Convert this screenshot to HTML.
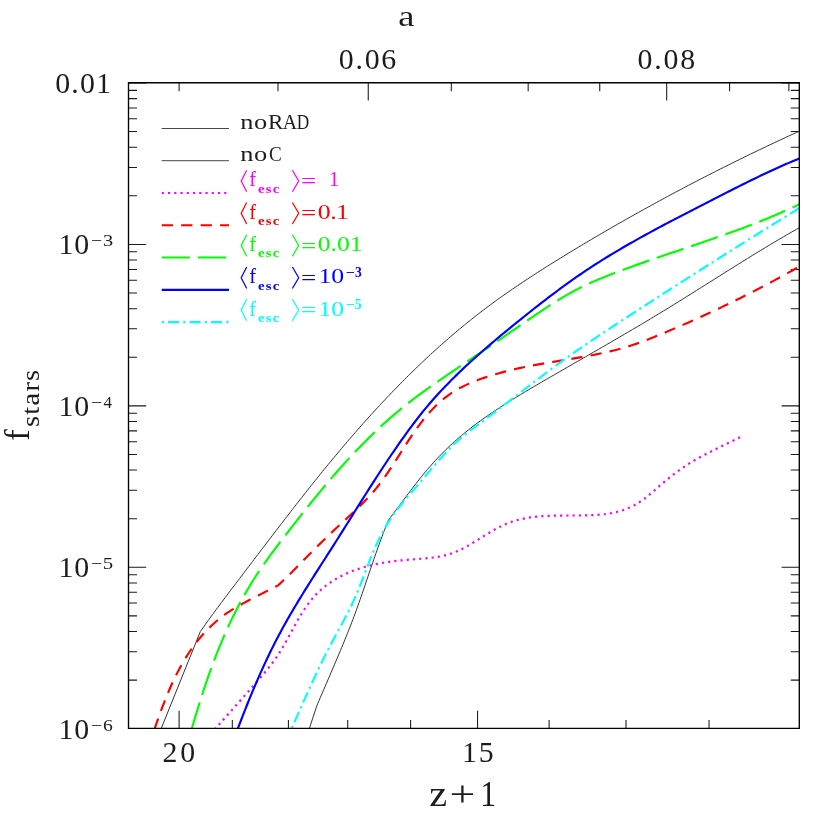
<!DOCTYPE html>
<html><head><meta charset="utf-8"><title>f_stars vs z+1</title>
<style>
html,body{margin:0;padding:0;background:#fff;}
body{width:830px;height:830px;overflow:hidden;font-family:"Liberation Serif",serif;}
svg{display:block;will-change:transform;font-family:"Liberation Serif",serif;}
</style></head><body>
<svg width="830" height="830" viewBox="0 0 830 830">
<rect width="830" height="830" fill="#fff"/>
<path d="M128.5,728.40 h17.7 M799.3,728.40 h-17.7 M128.5,680.11 h8.5 M799.3,680.11 h-8.5 M128.5,651.68 h8.5 M799.3,651.68 h-8.5 M128.5,631.51 h8.5 M799.3,631.51 h-8.5 M128.5,615.87 h8.5 M799.3,615.87 h-8.5 M128.5,603.09 h8.5 M799.3,603.09 h-8.5 M128.5,592.28 h8.5 M799.3,592.28 h-8.5 M128.5,582.92 h8.5 M799.3,582.92 h-8.5 M128.5,574.66 h8.5 M799.3,574.66 h-8.5 M128.5,567.27 h17.7 M799.3,567.27 h-17.7 M128.5,518.68 h8.5 M799.3,518.68 h-8.5 M128.5,490.26 h8.5 M799.3,490.26 h-8.5 M128.5,470.09 h8.5 M799.3,470.09 h-8.5 M128.5,454.44 h8.5 M799.3,454.44 h-8.5 M128.5,441.66 h8.5 M799.3,441.66 h-8.5 M128.5,430.86 h8.5 M799.3,430.86 h-8.5 M128.5,421.49 h8.5 M799.3,421.49 h-8.5 M128.5,413.24 h8.5 M799.3,413.24 h-8.5 M128.5,405.85 h17.7 M799.3,405.85 h-17.7 M128.5,357.26 h8.5 M799.3,357.26 h-8.5 M128.5,328.83 h8.5 M799.3,328.83 h-8.5 M128.5,308.66 h8.5 M799.3,308.66 h-8.5 M128.5,293.02 h8.5 M799.3,293.02 h-8.5 M128.5,280.24 h8.5 M799.3,280.24 h-8.5 M128.5,269.43 h8.5 M799.3,269.43 h-8.5 M128.5,260.07 h8.5 M799.3,260.07 h-8.5 M128.5,251.81 h8.5 M799.3,251.81 h-8.5 M128.5,244.43 h17.7 M799.3,244.43 h-17.7 M128.5,195.83 h8.5 M799.3,195.83 h-8.5 M128.5,167.41 h8.5 M799.3,167.41 h-8.5 M128.5,147.24 h8.5 M799.3,147.24 h-8.5 M128.5,131.59 h8.5 M799.3,131.59 h-8.5 M128.5,118.81 h8.5 M799.3,118.81 h-8.5 M128.5,108.01 h8.5 M799.3,108.01 h-8.5 M128.5,98.64 h8.5 M799.3,98.64 h-8.5 M128.5,90.39 h8.5 M799.3,90.39 h-8.5 M128.5,83.00 h17.7 M799.3,83.00 h-17.7 M709.04,728.4 v-8.5 M626.00,728.4 v-8.5 M549.12,728.4 v-8.5 M477.55,728.4 v-17.7 M410.60,728.4 v-8.5 M347.71,728.4 v-8.5 M288.41,728.4 v-8.5 M232.32,728.4 v-8.5 M179.11,728.4 v-17.7 M179.11,82.7 v8.5 M277.99,82.7 v8.5 M368.25,82.7 v17.7 M451.29,82.7 v8.5 M528.16,82.7 v8.5 M599.74,82.7 v8.5 M666.69,82.7 v17.7 M729.58,82.7 v8.5 M788.87,82.7 v8.5" fill="none" stroke="#1a1a1a" stroke-width="1.05"/>
<clipPath id="cp"><rect x="128.5" y="82.7" width="670.8" height="645.6999999999999"/></clipPath>
<g fill="none" clip-path="url(#cp)">
<path d="M161.25,728.40 L200.30,631.60 L202.03,629.14 L203.77,626.69 L205.51,624.24 L207.27,621.80 L209.03,619.37 L210.79,616.93 L212.57,614.51 L214.35,612.08 L216.13,609.67 L217.92,607.25 L219.71,604.84 L221.51,602.43 L223.32,600.02 L225.12,597.62 L226.93,595.22 L228.74,592.82 L230.56,590.43 L232.37,588.03 L234.19,585.64 L236.01,583.24 L237.83,580.85 L239.65,578.46 L241.47,576.07 L243.29,573.68 L245.11,571.29 L246.93,568.89 L248.75,566.50 L250.57,564.11 L252.39,561.71 L254.21,559.32 L256.02,556.93 L257.84,554.54 L259.66,552.14 L261.48,549.75 L263.30,547.36 L265.12,544.97 L266.95,542.58 L268.77,540.19 L270.59,537.80 L272.42,535.41 L274.24,533.02 L276.07,530.63 L277.90,528.25 L279.73,525.86 L281.56,523.48 L283.39,521.10 L285.23,518.72 L287.06,516.34 L288.90,513.96 L290.74,511.58 L292.59,509.21 L294.43,506.84 L296.28,504.47 L298.13,502.10 L299.98,499.73 L301.84,497.37 L303.70,495.01 L305.56,492.65 L307.42,490.29 L309.29,487.93 L311.16,485.58 L313.04,483.23 L314.92,480.89 L316.80,478.54 L318.68,476.20 L320.57,473.86 L322.47,471.53 L324.36,469.20 L326.26,466.87 L328.17,464.54 L330.08,462.22 L331.99,459.91 L333.91,457.59 L335.84,455.28 L337.76,452.98 L339.70,450.67 L341.63,448.38 L343.57,446.08 L345.52,443.79 L347.47,441.51 L349.43,439.22 L351.39,436.95 L353.36,434.68 L355.33,432.41 L357.31,430.14 L359.30,427.89 L361.28,425.63 L363.28,423.38 L365.28,421.14 L367.29,418.90 L369.30,416.67 L371.31,414.44 L373.34,412.22 L375.37,410.00 L377.40,407.79 L379.44,405.58 L381.49,403.38 L383.55,401.19 L385.61,399.00 L387.67,396.82 L389.75,394.64 L391.83,392.47 L393.91,390.31 L396.01,388.15 L398.11,386.00 L400.21,383.86 L402.32,381.72 L404.44,379.59 L406.57,377.46 L408.71,375.35 L410.85,373.24 L412.99,371.13 L415.15,369.04 L417.31,366.95 L419.48,364.87 L421.66,362.80 L423.84,360.73 L426.03,358.68 L428.23,356.63 L430.44,354.59 L432.65,352.55 L434.87,350.53 L437.10,348.51 L439.34,346.50 L441.58,344.50 L443.84,342.51 L446.10,340.53 L448.37,338.56 L450.64,336.60 L452.92,334.64 L455.22,332.70 L457.52,330.76 L459.82,328.84 L462.14,326.92 L464.46,325.01 L466.79,323.12 L469.13,321.23 L471.48,319.35 L473.84,317.48 L476.20,315.63 L478.57,313.78 L480.95,311.94 L483.34,310.12 L485.73,308.30 L488.14,306.50 L490.55,304.70 L492.97,302.92 L495.39,301.15 L497.83,299.38 L500.27,297.63 L502.72,295.89 L505.18,294.16 L507.65,292.44 L510.12,290.73 L512.59,289.03 L515.08,287.34 L517.57,285.65 L520.06,283.97 L522.56,282.31 L525.07,280.64 L527.58,278.99 L530.09,277.34 L532.61,275.70 L535.13,274.07 L537.66,272.44 L540.19,270.81 L542.72,269.20 L545.26,267.59 L547.80,265.98 L550.34,264.38 L552.89,262.79 L555.44,261.20 L558.00,259.61 L560.55,258.03 L563.11,256.46 L565.68,254.89 L568.24,253.32 L570.81,251.76 L573.38,250.20 L575.95,248.65 L578.53,247.10 L581.11,245.55 L583.69,244.01 L586.27,242.47 L588.85,240.94 L591.44,239.41 L594.03,237.88 L596.62,236.36 L599.22,234.84 L601.81,233.32 L604.41,231.81 L607.01,230.30 L609.61,228.80 L612.21,227.30 L614.82,225.80 L617.43,224.30 L620.04,222.81 L622.65,221.33 L625.26,219.84 L627.88,218.36 L630.50,216.89 L633.12,215.41 L635.74,213.94 L638.37,212.48 L640.99,211.02 L643.62,209.56 L646.25,208.10 L648.88,206.65 L651.52,205.21 L654.15,203.76 L656.79,202.32 L659.43,200.88 L662.07,199.45 L664.72,198.02 L667.36,196.60 L670.01,195.17 L672.66,193.75 L675.31,192.34 L677.97,190.93 L680.62,189.52 L683.28,188.12 L685.94,186.72 L688.60,185.32 L691.26,183.93 L693.93,182.54 L696.60,181.15 L699.27,179.77 L701.94,178.39 L704.61,177.01 L707.28,175.64 L709.96,174.27 L712.64,172.91 L715.32,171.55 L718.00,170.19 L720.69,168.84 L723.37,167.49 L726.06,166.14 L728.75,164.80 L731.44,163.46 L734.13,162.13 L736.83,160.80 L739.52,159.47 L742.22,158.15 L744.92,156.83 L747.63,155.51 L750.33,154.20 L753.03,152.89 L755.74,151.58 L758.45,150.28 L761.16,148.98 L763.88,147.69 L766.59,146.40 L769.31,145.11 L772.02,143.83 L774.74,142.55 L777.47,141.27 L780.19,140.00 L782.91,138.73 L785.64,137.47 L788.37,136.21 L791.10,134.95 L793.83,133.70 L796.56,132.45 L799.30,131.20" stroke="#333" stroke-width="1"/>
<path d="M309.40,728.40 L316.70,706.10 L317.88,703.31 L319.07,700.52 L320.26,697.73 L321.45,694.95 L322.64,692.16 L323.84,689.38 L325.03,686.59 L326.23,683.81 L327.43,681.03 L328.63,678.24 L329.83,675.46 L331.02,672.68 L332.22,669.89 L333.41,667.11 L334.60,664.32 L335.79,661.53 L336.97,658.74 L338.15,655.95 L339.33,653.16 L340.50,650.36 L341.66,647.56 L342.82,644.76 L343.97,641.96 L345.12,639.15 L346.26,636.35 L347.38,633.53 L348.50,630.72 L349.62,627.90 L350.72,625.08 L351.81,622.25 L352.89,619.42 L353.96,616.58 L355.02,613.74 L356.06,610.90 L357.10,608.05 L358.12,605.20 L359.13,602.34 L360.14,599.48 L361.14,596.62 L362.13,593.76 L363.11,590.89 L364.09,588.02 L365.07,585.15 L366.04,582.28 L367.01,579.41 L367.98,576.54 L368.95,573.67 L369.92,570.80 L370.90,567.93 L371.87,565.06 L372.85,562.20 L373.84,559.33 L374.83,556.47 L375.83,553.61 L376.84,550.75 L377.85,547.89 L378.88,545.04 L379.91,542.19 L380.96,539.35 L382.02,536.51 L383.09,533.68 L384.18,530.85 L385.29,528.03 L386.41,525.21 L387.54,522.40 L388.70,519.60 L390.55,517.23 L392.39,514.85 L394.21,512.45 L396.03,510.06 L397.84,507.65 L399.64,505.24 L401.44,502.83 L403.23,500.42 L405.03,498.01 L406.83,495.60 L408.64,493.19 L410.45,490.79 L412.27,488.40 L414.09,486.01 L415.94,483.63 L417.79,481.26 L419.66,478.90 L421.55,476.56 L423.45,474.24 L425.38,471.92 L427.32,469.63 L429.29,467.35 L431.27,465.09 L433.28,462.85 L435.30,460.62 L437.35,458.42 L439.42,456.24 L441.51,454.08 L443.63,451.94 L445.76,449.82 L447.92,447.73 L450.11,445.66 L452.32,443.62 L454.55,441.60 L456.80,439.60 L459.07,437.63 L461.36,435.69 L463.68,433.76 L466.01,431.86 L468.35,429.98 L470.72,428.12 L473.10,426.28 L475.50,424.47 L477.91,422.67 L480.34,420.89 L482.78,419.13 L485.23,417.39 L487.70,415.67 L490.17,413.96 L492.66,412.27 L495.16,410.60 L497.67,408.93 L500.18,407.29 L502.71,405.65 L505.24,404.03 L507.79,402.43 L510.33,400.83 L512.89,399.24 L515.45,397.67 L518.02,396.10 L520.59,394.54 L523.17,392.99 L525.75,391.45 L528.34,389.91 L530.93,388.38 L533.52,386.86 L536.12,385.34 L538.71,383.82 L541.31,382.30 L543.91,380.79 L546.52,379.28 L549.12,377.78 L551.72,376.27 L554.33,374.76 L556.93,373.26 L559.54,371.75 L562.14,370.25 L564.75,368.75 L567.35,367.25 L569.96,365.75 L572.57,364.25 L575.18,362.75 L577.78,361.25 L580.39,359.75 L583.00,358.25 L585.60,356.75 L588.21,355.25 L590.82,353.74 L593.42,352.24 L596.03,350.74 L598.64,349.24 L601.24,347.73 L603.84,346.23 L606.45,344.72 L609.05,343.21 L611.65,341.70 L614.25,340.19 L616.85,338.68 L619.45,337.16 L622.05,335.65 L624.65,334.13 L627.24,332.61 L629.84,331.09 L632.43,329.56 L635.02,328.03 L637.61,326.50 L640.20,324.97 L642.78,323.43 L645.37,321.89 L647.95,320.35 L650.53,318.80 L653.11,317.25 L655.68,315.70 L658.26,314.14 L660.83,312.58 L663.40,311.02 L665.96,309.45 L668.53,307.88 L671.09,306.30 L673.65,304.72 L676.21,303.14 L678.76,301.55 L681.32,299.97 L683.87,298.37 L686.42,296.78 L688.97,295.19 L691.52,293.59 L694.07,291.99 L696.62,290.39 L699.16,288.79 L701.71,287.19 L704.25,285.58 L706.80,283.98 L709.34,282.37 L711.89,280.77 L714.43,279.17 L716.98,277.56 L719.52,275.96 L722.07,274.36 L724.61,272.75 L727.16,271.15 L729.71,269.55 L732.26,267.96 L734.81,266.36 L737.36,264.77 L739.91,263.18 L742.46,261.59 L745.02,260.00 L747.58,258.42 L750.14,256.84 L752.70,255.26 L755.26,253.69 L757.83,252.12 L760.40,250.55 L762.97,248.99 L765.54,247.43 L768.12,245.88 L770.70,244.33 L773.28,242.79 L775.86,241.25 L778.45,239.72 L781.05,238.20 L783.64,236.68 L786.24,235.16 L788.85,233.66 L791.45,232.16 L794.06,230.66 L796.68,229.18 L799.30,227.70" stroke="#333" stroke-width="1"/>
<path d="M215.50,728.40 L217.51,726.16 L219.52,723.92 L221.53,721.67 L223.53,719.43 L225.54,717.18 L227.54,714.93 L229.54,712.68 L231.54,710.43 L233.54,708.18 L235.54,705.93 L237.54,703.68 L239.53,701.42 L241.53,699.17 L243.52,696.91 L245.52,694.66 L247.51,692.40 L249.50,690.14 L251.49,687.88 L253.48,685.63 L255.47,683.37 L257.46,681.10 L259.44,678.83 L261.40,676.55 L263.35,674.26 L265.28,671.95 L267.19,669.62 L269.07,667.26 L270.92,664.89 L272.73,662.48 L274.50,660.05 L276.23,657.58 L277.91,655.08 L279.54,652.55 L281.13,650.00 L282.68,647.42 L284.20,644.82 L285.70,642.20 L287.17,639.58 L288.62,636.94 L290.06,634.30 L291.49,631.65 L292.93,629.00 L294.37,626.35 L295.82,623.72 L297.28,621.09 L298.78,618.47 L300.30,615.88 L301.86,613.30 L303.47,610.75 L305.12,608.24 L306.83,605.76 L308.60,603.32 L310.43,600.93 L312.34,598.60 L314.32,596.34 L316.38,594.14 L318.52,592.02 L320.73,589.98 L323.02,588.02 L325.37,586.14 L327.78,584.34 L330.25,582.62 L332.77,580.97 L335.33,579.39 L337.94,577.89 L340.59,576.45 L343.28,575.09 L346.00,573.80 L348.75,572.58 L351.53,571.43 L354.34,570.35 L357.17,569.33 L360.03,568.37 L362.90,567.47 L365.79,566.64 L368.70,565.86 L371.62,565.13 L374.56,564.46 L377.50,563.84 L380.46,563.26 L383.42,562.73 L386.39,562.25 L389.37,561.80 L392.35,561.39 L395.34,561.01 L398.33,560.67 L401.33,560.36 L404.32,560.07 L407.32,559.81 L410.33,559.57 L413.33,559.35 L416.33,559.14 L419.33,558.92 L422.34,558.69 L425.34,558.43 L428.33,558.14 L431.32,557.80 L434.31,557.41 L437.29,556.96 L440.25,556.42 L443.20,555.80 L446.12,555.08 L449.01,554.26 L451.87,553.31 L454.69,552.25 L457.46,551.08 L460.20,549.82 L462.89,548.48 L465.55,547.07 L468.19,545.61 L470.79,544.10 L473.38,542.55 L475.94,540.98 L478.50,539.40 L481.06,537.80 L483.61,536.20 L486.17,534.62 L488.74,533.05 L491.32,531.50 L493.93,529.99 L496.56,528.53 L499.22,527.13 L501.92,525.79 L504.66,524.53 L507.43,523.37 L510.25,522.31 L513.10,521.34 L515.98,520.47 L518.89,519.69 L521.82,519.00 L524.77,518.39 L527.73,517.85 L530.71,517.39 L533.69,517.00 L536.68,516.66 L539.68,516.38 L542.68,516.15 L545.69,515.97 L548.70,515.82 L551.71,515.71 L554.72,515.63 L557.73,515.58 L560.74,515.54 L563.75,515.52 L566.76,515.51 L569.77,515.51 L572.78,515.50 L575.79,515.50 L578.80,515.48 L581.81,515.46 L584.82,515.41 L587.83,515.33 L590.84,515.23 L593.85,515.08 L596.85,514.90 L599.85,514.65 L602.85,514.36 L605.84,513.99 L608.82,513.55 L611.78,513.04 L614.73,512.43 L617.66,511.73 L620.56,510.93 L623.43,510.02 L626.26,508.99 L629.05,507.84 L631.78,506.58 L634.45,505.18 L637.05,503.67 L639.59,502.05 L642.07,500.34 L644.49,498.56 L646.88,496.72 L649.22,494.83 L651.53,492.90 L653.82,490.95 L656.10,488.98 L658.37,487.00 L660.64,485.02 L662.92,483.06 L665.22,481.11 L667.54,479.19 L669.88,477.30 L672.24,475.43 L674.63,473.60 L677.05,471.80 L679.49,470.04 L681.95,468.31 L684.44,466.62 L686.96,464.97 L689.50,463.36 L692.07,461.79 L694.66,460.25 L697.28,458.76 L699.91,457.29 L702.55,455.85 L705.21,454.44 L707.88,453.06 L710.57,451.69 L713.26,450.34 L715.96,449.00 L718.66,447.68 L721.37,446.36 L724.08,445.05 L726.79,443.74 L729.50,442.42 L732.21,441.11 L734.91,439.78 L737.61,438.45 L740.30,437.10" stroke="#ff00ff" stroke-width="2.2" stroke-dasharray="2.2 4.05" stroke-dashoffset="1.42"/>
<path d="M154.75,728.40 L155.74,725.54 L156.73,722.68 L157.74,719.83 L158.75,716.98 L159.78,714.13 L160.82,711.29 L161.87,708.45 L162.94,705.62 L164.03,702.80 L165.14,699.98 L166.27,697.17 L167.41,694.37 L168.58,691.58 L169.78,688.80 L171.00,686.03 L172.25,683.27 L173.52,680.53 L174.83,677.80 L176.16,675.08 L177.53,672.38 L178.93,669.70 L180.37,667.04 L181.84,664.39 L183.35,661.77 L184.90,659.17 L186.48,656.59 L188.11,654.04 L189.78,651.51 L191.49,649.02 L193.25,646.55 L195.05,644.12 L196.89,641.72 L198.78,639.35 L200.71,637.03 L202.69,634.74 L204.72,632.49 L206.79,630.29 L208.91,628.13 L211.08,626.01 L213.29,623.95 L215.55,621.94 L217.86,619.98 L220.21,618.07 L222.61,616.23 L225.05,614.44 L227.54,612.72 L230.07,611.06 L232.64,609.46 L235.23,607.89 L237.85,606.37 L240.48,604.88 L243.13,603.42 L245.79,601.97 L248.45,600.54 L251.13,599.13 L253.81,597.73 L256.50,596.34 L259.19,594.96 L261.89,593.59 L264.59,592.22 L267.29,590.86 L270.00,589.50 L272.70,588.13 L275.40,586.77 L278.10,585.40 L280.31,583.37 L282.50,581.32 L284.67,579.24 L286.82,577.15 L288.96,575.05 L291.08,572.93 L293.19,570.80 L295.30,568.66 L297.40,566.52 L299.50,564.37 L301.60,562.23 L303.69,560.08 L305.80,557.94 L307.90,555.80 L310.02,553.67 L312.13,551.55 L314.26,549.43 L316.39,547.31 L318.52,545.21 L320.67,543.11 L322.81,541.01 L324.97,538.92 L327.13,536.84 L329.29,534.76 L331.47,532.69 L333.65,530.63 L335.83,528.57 L338.02,526.52 L340.22,524.48 L342.42,522.44 L344.63,520.41 L346.83,518.37 L349.03,516.33 L351.23,514.28 L353.41,512.23 L355.59,510.17 L357.76,508.09 L359.91,506.00 L362.04,503.88 L364.15,501.75 L366.23,499.59 L368.29,497.41 L370.32,495.20 L372.31,492.96 L374.27,490.68 L376.19,488.37 L378.06,486.03 L379.90,483.66 L381.71,481.26 L383.48,478.84 L385.22,476.40 L386.93,473.93 L388.62,471.45 L390.29,468.96 L391.94,466.45 L393.58,463.94 L395.20,461.42 L396.82,458.89 L398.43,456.35 L400.03,453.82 L401.64,451.29 L403.25,448.75 L404.87,446.23 L406.49,443.70 L408.13,441.19 L409.78,438.68 L411.45,436.19 L413.13,433.71 L414.84,431.24 L416.58,428.79 L418.34,426.36 L420.13,423.96 L421.96,421.57 L423.81,419.22 L425.71,416.89 L427.65,414.60 L429.62,412.34 L431.65,410.13 L433.72,407.95 L435.83,405.83 L438.00,403.75 L440.22,401.74 L442.49,399.78 L444.82,397.88 L447.20,396.05 L449.63,394.30 L452.12,392.62 L454.66,391.03 L457.25,389.50 L459.88,388.06 L462.54,386.68 L465.24,385.36 L467.96,384.11 L470.71,382.91 L473.49,381.76 L476.28,380.66 L479.09,379.61 L481.91,378.59 L484.75,377.62 L487.60,376.67 L490.46,375.76 L493.32,374.87 L496.20,374.02 L499.08,373.19 L501.97,372.39 L504.87,371.61 L507.78,370.86 L510.69,370.14 L513.61,369.44 L516.53,368.77 L519.46,368.12 L522.40,367.49 L525.34,366.88 L528.28,366.30 L531.22,365.72 L534.17,365.17 L537.12,364.63 L540.08,364.10 L543.03,363.58 L545.99,363.07 L548.95,362.57 L551.91,362.08 L554.87,361.59 L557.83,361.10 L560.79,360.62 L563.75,360.14 L566.71,359.65 L569.67,359.16 L572.63,358.67 L575.59,358.17 L578.55,357.67 L581.51,357.15 L584.46,356.63 L587.41,356.09 L590.36,355.54 L593.31,354.97 L596.25,354.39 L599.19,353.79 L602.13,353.17 L605.06,352.52 L607.98,351.86 L610.90,351.17 L613.82,350.45 L616.73,349.71 L619.62,348.93 L622.52,348.13 L625.40,347.29 L628.27,346.42 L631.13,345.52 L633.98,344.58 L636.82,343.61 L639.65,342.60 L642.46,341.57 L645.27,340.52 L648.07,339.44 L650.87,338.35 L653.65,337.23 L656.43,336.10 L659.21,334.96 L661.98,333.81 L664.75,332.65 L667.51,331.48 L670.27,330.31 L673.03,329.13 L675.79,327.95 L678.54,326.76 L681.30,325.56 L684.04,324.36 L686.79,323.15 L689.54,321.94 L692.28,320.72 L695.02,319.49 L697.75,318.26 L700.48,317.02 L703.21,315.77 L705.94,314.52 L708.67,313.26 L711.39,312.00 L714.11,310.73 L716.82,309.45 L719.53,308.17 L722.24,306.88 L724.95,305.58 L727.65,304.28 L730.35,302.97 L733.05,301.66 L735.74,300.33 L738.43,299.00 L741.12,297.67 L743.80,296.32 L746.48,294.97 L749.16,293.62 L751.83,292.25 L754.50,290.88 L757.17,289.51 L759.83,288.12 L762.49,286.73 L765.14,285.33 L767.79,283.93 L770.44,282.51 L773.08,281.09 L775.72,279.67 L778.36,278.23 L780.99,276.79 L783.62,275.34 L786.24,273.89 L788.86,272.43 L791.48,270.96 L794.09,269.48 L796.70,267.99 L799.30,266.50" stroke="#ff0000" stroke-width="2.15" stroke-dasharray="11.3 8.15" stroke-dashoffset="0.98"/>
<path d="M191.90,728.40 L192.74,725.51 L193.58,722.63 L194.43,719.74 L195.29,716.86 L196.15,713.98 L197.03,711.10 L197.91,708.23 L198.79,705.35 L199.69,702.48 L200.59,699.62 L201.51,696.75 L202.43,693.89 L203.36,691.03 L204.31,688.18 L205.26,685.32 L206.23,682.48 L207.20,679.63 L208.19,676.79 L209.19,673.96 L210.20,671.12 L211.22,668.30 L212.26,665.47 L213.31,662.66 L214.37,659.84 L215.45,657.04 L216.54,654.23 L217.64,651.44 L218.76,648.65 L219.90,645.86 L221.05,643.08 L222.22,640.31 L223.40,637.55 L224.60,634.79 L225.81,632.04 L227.05,629.30 L228.30,626.56 L229.56,623.84 L230.85,621.12 L232.15,618.41 L233.48,615.71 L234.82,613.02 L236.18,610.33 L237.56,607.66 L238.95,605.00 L240.37,602.35 L241.81,599.71 L243.27,597.08 L244.75,594.46 L246.25,591.86 L247.77,589.26 L249.31,586.68 L250.87,584.11 L252.44,581.55 L254.04,579.00 L255.66,576.47 L257.30,573.95 L258.97,571.44 L260.65,568.95 L262.35,566.47 L264.06,564.00 L265.80,561.54 L267.54,559.10 L269.31,556.66 L271.08,554.23 L272.87,551.81 L274.67,549.40 L276.47,547.00 L278.29,544.60 L280.11,542.21 L281.94,539.83 L283.78,537.44 L285.61,535.06 L287.45,532.68 L289.29,530.31 L291.14,527.93 L292.99,525.56 L294.84,523.19 L296.69,520.82 L298.55,518.46 L300.41,516.09 L302.27,513.74 L304.14,511.38 L306.01,509.03 L307.89,506.68 L309.77,504.33 L311.66,501.99 L313.56,499.66 L315.45,497.33 L317.36,495.00 L319.27,492.68 L321.19,490.36 L323.11,488.05 L325.04,485.75 L326.98,483.45 L328.93,481.16 L330.88,478.87 L332.84,476.59 L334.81,474.32 L336.79,472.05 L338.78,469.80 L340.77,467.55 L342.77,465.30 L344.79,463.07 L346.81,460.85 L348.84,458.63 L350.88,456.42 L352.94,454.22 L355.00,452.04 L357.07,449.86 L359.16,447.69 L361.25,445.53 L363.36,443.39 L365.48,441.25 L367.60,439.13 L369.75,437.02 L371.90,434.92 L374.06,432.83 L376.24,430.76 L378.43,428.70 L380.63,426.65 L382.85,424.62 L385.07,422.60 L387.32,420.59 L389.57,418.60 L391.84,416.63 L394.12,414.67 L396.41,412.72 L398.72,410.80 L401.04,408.89 L403.38,406.99 L405.73,405.12 L408.09,403.26 L410.46,401.41 L412.85,399.58 L415.25,397.76 L417.65,395.96 L420.07,394.17 L422.49,392.39 L424.93,390.63 L427.37,388.87 L429.82,387.12 L432.27,385.39 L434.73,383.66 L437.20,381.94 L439.67,380.23 L442.15,378.52 L444.63,376.82 L447.11,375.13 L449.60,373.44 L452.09,371.76 L454.58,370.07 L457.08,368.39 L459.57,366.72 L462.07,365.04 L464.56,363.36 L467.06,361.69 L469.56,360.01 L472.05,358.33 L474.55,356.66 L477.04,354.98 L479.54,353.30 L482.03,351.62 L484.52,349.93 L487.01,348.25 L489.50,346.56 L491.99,344.87 L494.47,343.17 L496.95,341.48 L499.43,339.77 L501.91,338.07 L504.38,336.36 L506.85,334.65 L509.33,332.94 L511.80,331.22 L514.27,329.51 L516.74,327.80 L519.21,326.09 L521.69,324.38 L524.16,322.67 L526.64,320.96 L529.12,319.26 L531.60,317.57 L534.09,315.88 L536.58,314.19 L539.07,312.52 L541.57,310.84 L544.08,309.18 L546.59,307.53 L549.11,305.89 L551.64,304.27 L554.18,302.66 L556.73,301.06 L559.29,299.49 L561.87,297.93 L564.45,296.40 L567.05,294.89 L569.67,293.40 L572.30,291.94 L574.94,290.51 L577.60,289.11 L580.28,287.75 L582.98,286.41 L585.69,285.11 L588.41,283.84 L591.15,282.60 L593.90,281.39 L596.67,280.20 L599.44,279.04 L602.22,277.89 L605.01,276.77 L607.80,275.66 L610.60,274.56 L613.41,273.48 L616.22,272.40 L619.03,271.34 L621.84,270.28 L624.66,269.24 L627.48,268.20 L630.31,267.17 L633.14,266.15 L635.97,265.13 L638.80,264.12 L641.63,263.12 L644.47,262.12 L647.31,261.12 L650.15,260.14 L652.99,259.15 L655.83,258.17 L658.68,257.20 L661.52,256.23 L664.37,255.26 L667.22,254.29 L670.06,253.33 L672.91,252.36 L675.76,251.40 L678.61,250.44 L681.46,249.48 L684.31,248.52 L687.16,247.56 L690.01,246.60 L692.86,245.64 L695.71,244.68 L698.55,243.71 L701.40,242.74 L704.25,241.77 L707.09,240.80 L709.94,239.82 L712.78,238.84 L715.62,237.85 L718.46,236.86 L721.30,235.87 L724.13,234.87 L726.96,233.86 L729.79,232.85 L732.62,231.83 L735.45,230.80 L738.27,229.76 L741.09,228.72 L743.91,227.67 L746.72,226.61 L749.53,225.54 L752.34,224.46 L755.14,223.37 L757.94,222.27 L760.74,221.16 L763.53,220.04 L766.31,218.91 L769.09,217.77 L771.87,216.61 L774.64,215.44 L777.41,214.26 L780.16,213.06 L782.92,211.86 L785.67,210.63 L788.41,209.40 L791.14,208.15 L793.87,206.88 L796.59,205.60 L799.30,204.30" stroke="#00ff00" stroke-width="2.15" stroke-dasharray="28.2 8" stroke-dashoffset="1.16"/>
<path d="M237.90,728.40 L238.97,725.59 L240.04,722.79 L241.12,719.99 L242.20,717.19 L243.29,714.39 L244.38,711.60 L245.49,708.81 L246.60,706.02 L247.71,703.23 L248.84,700.45 L249.97,697.67 L251.11,694.89 L252.26,692.12 L253.42,689.35 L254.59,686.59 L255.77,683.83 L256.96,681.07 L258.15,678.32 L259.36,675.57 L260.58,672.82 L261.81,670.09 L263.05,667.35 L264.31,664.63 L265.57,661.90 L266.85,659.19 L268.13,656.48 L269.44,653.77 L270.75,651.07 L272.08,648.38 L273.42,645.70 L274.78,643.02 L276.15,640.35 L277.53,637.68 L278.93,635.03 L280.34,632.38 L281.77,629.74 L283.21,627.10 L284.67,624.48 L286.13,621.86 L287.61,619.25 L289.11,616.65 L290.61,614.05 L292.12,611.45 L293.65,608.87 L295.18,606.29 L296.72,603.71 L298.27,601.14 L299.83,598.58 L301.40,596.02 L302.97,593.46 L304.55,590.91 L306.14,588.36 L307.73,585.82 L309.33,583.27 L310.93,580.73 L312.53,578.20 L314.14,575.66 L315.75,573.13 L317.37,570.60 L318.98,568.07 L320.60,565.54 L322.22,563.01 L323.84,560.49 L325.46,557.96 L327.08,555.43 L328.69,552.90 L330.31,550.37 L331.93,547.84 L333.54,545.31 L335.15,542.78 L336.75,540.24 L338.36,537.71 L339.96,535.17 L341.56,532.63 L343.16,530.09 L344.75,527.54 L346.35,525.00 L347.94,522.46 L349.54,519.91 L351.13,517.37 L352.72,514.82 L354.31,512.28 L355.91,509.74 L357.50,507.19 L359.10,504.65 L360.69,502.11 L362.29,499.57 L363.89,497.03 L365.50,494.49 L367.10,491.96 L368.71,489.42 L370.33,486.89 L371.94,484.36 L373.56,481.83 L375.18,479.31 L376.81,476.79 L378.45,474.27 L380.08,471.75 L381.73,469.24 L383.38,466.73 L385.03,464.23 L386.69,461.73 L388.36,459.23 L390.04,456.74 L391.72,454.26 L393.41,451.78 L395.10,449.30 L396.81,446.83 L398.52,444.36 L400.24,441.90 L401.97,439.45 L403.71,437.01 L405.46,434.57 L407.22,432.13 L408.99,429.71 L410.78,427.30 L412.57,424.89 L414.38,422.50 L416.21,420.11 L418.05,417.74 L419.90,415.38 L421.78,413.04 L423.66,410.70 L425.57,408.38 L427.49,406.08 L429.44,403.79 L431.40,401.52 L433.38,399.26 L435.38,397.02 L437.39,394.80 L439.42,392.59 L441.46,390.39 L443.52,388.21 L445.60,386.04 L447.69,383.88 L449.79,381.74 L451.91,379.61 L454.04,377.49 L456.18,375.39 L458.33,373.30 L460.49,371.22 L462.67,369.15 L464.85,367.09 L467.05,365.05 L469.26,363.01 L471.47,360.98 L473.70,358.97 L475.93,356.96 L478.17,354.97 L480.42,352.98 L482.68,351.00 L484.94,349.03 L487.21,347.07 L489.49,345.11 L491.77,343.16 L494.06,341.22 L496.36,339.29 L498.66,337.36 L500.97,335.44 L503.28,333.52 L505.59,331.61 L507.91,329.71 L510.23,327.81 L512.56,325.91 L514.89,324.01 L517.22,322.13 L519.56,320.24 L521.89,318.36 L524.23,316.48 L526.58,314.60 L528.93,312.73 L531.28,310.86 L533.63,309.00 L535.99,307.15 L538.36,305.30 L540.72,303.45 L543.10,301.62 L545.48,299.78 L547.86,297.96 L550.25,296.14 L552.64,294.33 L555.04,292.53 L557.45,290.74 L559.86,288.95 L562.28,287.17 L564.71,285.41 L567.14,283.65 L569.58,281.90 L572.03,280.16 L574.48,278.43 L576.94,276.71 L579.41,275.01 L581.89,273.31 L584.38,271.63 L586.87,269.96 L589.37,268.30 L591.88,266.66 L594.40,265.02 L596.93,263.40 L599.46,261.79 L602.00,260.20 L604.55,258.61 L607.10,257.03 L609.67,255.47 L612.23,253.91 L614.81,252.37 L617.39,250.83 L619.97,249.31 L622.56,247.79 L625.16,246.29 L627.76,244.79 L630.37,243.30 L632.98,241.82 L635.59,240.34 L638.21,238.88 L640.84,237.42 L643.46,235.97 L646.09,234.52 L648.73,233.08 L651.37,231.65 L654.01,230.23 L656.65,228.81 L659.30,227.39 L661.95,225.98 L664.60,224.57 L667.26,223.17 L669.91,221.78 L672.57,220.38 L675.23,218.99 L677.89,217.61 L680.56,216.22 L683.22,214.84 L685.89,213.46 L688.56,212.09 L691.23,210.71 L693.89,209.34 L696.56,207.97 L699.23,206.59 L701.91,205.22 L704.58,203.85 L707.25,202.48 L709.92,201.11 L712.59,199.74 L715.26,198.37 L717.93,197.00 L720.60,195.63 L723.27,194.27 L725.95,192.90 L728.62,191.54 L731.30,190.18 L733.97,188.82 L736.65,187.47 L739.34,186.12 L742.02,184.78 L744.71,183.44 L747.40,182.11 L750.09,180.79 L752.79,179.47 L755.49,178.16 L758.19,176.85 L760.90,175.55 L763.61,174.27 L766.33,172.99 L769.05,171.72 L771.77,170.46 L774.50,169.21 L777.23,167.97 L779.97,166.74 L782.72,165.53 L785.47,164.32 L788.22,163.13 L790.98,161.95 L793.75,160.79 L796.52,159.64 L799.30,158.50" stroke="#0000ff" stroke-width="2.15"/>
<path d="M291.70,728.40 L292.92,725.65 L294.13,722.90 L295.35,720.15 L296.56,717.40 L297.78,714.65 L299.00,711.90 L300.21,709.15 L301.43,706.40 L302.65,703.66 L303.88,700.91 L305.10,698.17 L306.33,695.42 L307.57,692.68 L308.81,689.94 L310.05,687.21 L311.30,684.47 L312.56,681.74 L313.82,679.01 L315.09,676.29 L316.37,673.57 L317.66,670.85 L318.95,668.13 L320.25,665.43 L321.57,662.72 L322.89,660.02 L324.22,657.33 L325.57,654.64 L326.92,651.95 L328.29,649.27 L329.67,646.60 L331.06,643.94 L332.47,641.28 L333.88,638.63 L335.32,635.99 L336.75,633.35 L338.20,630.71 L339.64,628.07 L341.09,625.44 L342.53,622.80 L343.96,620.15 L345.37,617.50 L346.77,614.84 L348.16,612.17 L349.52,609.49 L350.85,606.79 L352.15,604.08 L353.42,601.36 L354.65,598.62 L355.85,595.86 L357.03,593.09 L358.17,590.31 L359.30,587.52 L360.41,584.73 L361.50,581.93 L362.58,579.12 L363.65,576.32 L364.72,573.51 L365.79,570.70 L366.86,567.89 L367.94,565.08 L369.03,562.28 L370.13,559.48 L371.25,556.69 L372.39,553.91 L373.55,551.13 L374.74,548.37 L375.96,545.62 L377.21,542.89 L378.50,540.17 L379.82,537.47 L381.19,534.80 L382.60,532.14 L384.05,529.51 L385.55,526.90 L387.10,524.33 L388.70,521.78 L390.35,519.27 L392.05,516.79 L393.78,514.33 L395.56,511.90 L397.37,509.50 L399.21,507.13 L401.08,504.77 L402.98,502.44 L404.89,500.12 L406.83,497.82 L408.78,495.53 L410.73,493.25 L412.69,490.97 L414.65,488.69 L416.61,486.41 L418.56,484.12 L420.51,481.83 L422.46,479.55 L424.41,477.26 L426.36,474.96 L428.30,472.67 L430.24,470.38 L432.19,468.09 L434.14,465.80 L436.10,463.52 L438.07,461.25 L440.06,458.99 L442.06,456.75 L444.08,454.52 L446.13,452.32 L448.20,450.14 L450.30,447.99 L452.43,445.87 L454.60,443.79 L456.81,441.74 L459.05,439.74 L461.33,437.78 L463.64,435.86 L465.97,433.96 L468.33,432.10 L470.71,430.26 L473.10,428.44 L475.51,426.63 L477.92,424.84 L480.33,423.04 L482.74,421.25 L485.15,419.45 L487.55,417.64 L489.96,415.83 L492.35,414.02 L494.75,412.21 L497.14,410.39 L499.53,408.56 L501.92,406.74 L504.31,404.91 L506.70,403.08 L509.08,401.25 L511.47,399.42 L513.85,397.58 L516.23,395.75 L518.61,393.92 L521.00,392.09 L523.38,390.25 L525.77,388.42 L528.15,386.60 L530.54,384.77 L532.93,382.94 L535.32,381.12 L537.72,379.30 L540.11,377.49 L542.51,375.68 L544.92,373.87 L547.32,372.07 L549.73,370.27 L552.15,368.48 L554.56,366.69 L556.99,364.91 L559.42,363.14 L561.85,361.37 L564.29,359.61 L566.73,357.86 L569.18,356.12 L571.63,354.38 L574.09,352.65 L576.56,350.93 L579.03,349.22 L581.50,347.51 L583.98,345.81 L586.46,344.11 L588.95,342.42 L591.44,340.73 L593.93,339.05 L596.43,337.37 L598.92,335.70 L601.43,334.04 L603.93,332.37 L606.44,330.71 L608.95,329.05 L611.46,327.40 L613.97,325.75 L616.48,324.10 L619.00,322.46 L621.52,320.81 L624.03,319.17 L626.55,317.53 L629.07,315.89 L631.59,314.25 L634.11,312.61 L636.64,310.97 L639.16,309.34 L641.68,307.70 L644.20,306.07 L646.73,304.43 L649.25,302.80 L651.78,301.17 L654.30,299.54 L656.83,297.91 L659.36,296.28 L661.88,294.65 L664.41,293.02 L666.94,291.40 L669.47,289.77 L672.00,288.15 L674.53,286.53 L677.06,284.90 L679.59,283.28 L682.13,281.66 L684.66,280.04 L687.19,278.42 L689.73,276.81 L692.26,275.19 L694.80,273.57 L697.33,271.96 L699.87,270.35 L702.41,268.73 L704.95,267.12 L707.49,265.51 L710.02,263.90 L712.56,262.29 L715.11,260.68 L717.65,259.08 L720.19,257.47 L722.73,255.87 L725.27,254.26 L727.82,252.66 L730.36,251.06 L732.91,249.46 L735.45,247.86 L738.00,246.26 L740.54,244.66 L743.09,243.06 L745.64,241.47 L748.19,239.87 L750.74,238.28 L753.29,236.69 L755.84,235.10 L758.39,233.51 L760.94,231.92 L763.50,230.33 L766.05,228.74 L768.60,227.15 L771.16,225.57 L773.71,223.98 L776.27,222.40 L778.82,220.82 L781.38,219.24 L783.94,217.66 L786.50,216.08 L789.06,214.50 L791.62,212.92 L794.18,211.35 L796.74,209.77 L799.30,208.20" stroke="#00ffff" stroke-width="2.15" stroke-dasharray="2.3 4 11.2 4" stroke-dashoffset="21.10"/>
</g>
<path d="M128.5,82.7 H799.3 V728.4 H128.5 Z" fill="none" stroke="#000" stroke-width="1.35"/>
<path d="M161.7,128.5 H229" fill="none" stroke="#484848" stroke-width="1"/>
<path d="M161.7,160.7 H229" fill="none" stroke="#484848" stroke-width="1"/>
<path d="M161.7,193 H229" fill="none" stroke="#ff00ff" stroke-width="2.2" stroke-dasharray="2.2 4.05"/>
<path d="M161.7,225.27 H229" fill="none" stroke="#ff0000" stroke-width="2.15" stroke-dasharray="11.3 8.15"/>
<path d="M161.7,257.5 H229" fill="none" stroke="#00ff00" stroke-width="2.15" stroke-dasharray="28.2 8"/>
<path d="M161.7,289.8 H229" fill="none" stroke="#0000ff" stroke-width="2.15"/>
<path d="M161.7,322.06 H229" fill="none" stroke="#00ffff" stroke-width="2.15" stroke-dasharray="2.3 4 11.2 4"/>
<text transform="translate(55.16,92.90) scale(1.0300,1)" font-size="29" letter-spacing="1.152" fill="#1c1c1c">0.01</text>
<text transform="translate(58.47,254.22) scale(1.0300,1)" font-size="29" letter-spacing="0.770" fill="#1c1c1c">10</text>
<text transform="translate(90.93,246.43) scale(1.1503,1)" font-size="17" fill="#1c1c1c">−</text>
<text transform="translate(102.93,246.43) scale(1.1962,1)" font-size="17" fill="#1c1c1c">3</text>
<text transform="translate(58.47,415.65) scale(1.0300,1)" font-size="29" letter-spacing="0.770" fill="#1c1c1c">10</text>
<text transform="translate(90.93,407.85) scale(1.1503,1)" font-size="17" fill="#1c1c1c">−</text>
<text transform="translate(103.57,407.85) scale(0.9997,1)" font-size="17" fill="#1c1c1c">4</text>
<text transform="translate(58.47,577.08) scale(1.0300,1)" font-size="29" letter-spacing="0.770" fill="#1c1c1c">10</text>
<text transform="translate(90.93,569.27) scale(1.1503,1)" font-size="17" fill="#1c1c1c">−</text>
<text transform="translate(102.69,569.27) scale(1.2266,1)" font-size="17" fill="#1c1c1c">5</text>
<text transform="translate(58.47,738.50) scale(1.0300,1)" font-size="29" letter-spacing="0.770" fill="#1c1c1c">10</text>
<text transform="translate(90.93,730.70) scale(1.1503,1)" font-size="17" fill="#1c1c1c">−</text>
<text transform="translate(103.06,730.70) scale(1.1565,1)" font-size="17" fill="#1c1c1c">6</text>
<text transform="translate(162.49,762.10) scale(1.0300,1)" font-size="29" letter-spacing="2.796" fill="#1c1c1c">20</text>
<text transform="translate(462.07,762.10) scale(1.0300,1)" font-size="29" letter-spacing="1.672" fill="#1c1c1c">15</text>
<text transform="translate(338.76,68.60) scale(1.0300,1)" font-size="29" letter-spacing="1.701" fill="#1c1c1c">0.06</text>
<text transform="translate(637.56,68.60) scale(1.0300,1)" font-size="29" letter-spacing="1.748" fill="#1c1c1c">0.08</text>
<text transform="translate(398.32,26.20) scale(1.2071,1)" font-size="30.2" fill="#1c1c1c">a</text>
<text transform="translate(429.32,805.50) scale(1.1053,1)" font-size="36.5" fill="#1c1c1c">z</text>
<text transform="translate(449.62,805.50) scale(1.2541,1)" font-size="36.5" fill="#1c1c1c">+</text>
<text transform="translate(480.30,805.50) scale(0.8716,1)" font-size="36.5" fill="#1c1c1c">1</text>
<text transform="translate(28.70,439.60) rotate(-90) translate(-1.06,0.00) scale(0.9558,1)" font-size="36" fill="#1c1c1c">f</text>
<text transform="translate(28.70,439.60) rotate(-90) translate(12.63,10.60) scale(1.1000,1)" font-size="26" letter-spacing="1.087" fill="#1c1c1c">stars</text>
<text transform="translate(240.34,128.80) scale(1.2000,1)" font-size="22" letter-spacing="0.468" fill="#1c1c1c">no</text>
<text transform="translate(268.03,128.80) scale(1.0494,1)" font-size="22" fill="#1c1c1c">R</text>
<text transform="translate(282.71,128.80) scale(0.9025,1)" font-size="22" fill="#1c1c1c">A</text>
<text transform="translate(296.80,128.80) scale(0.7862,1)" font-size="22" fill="#1c1c1c">D</text>
<text transform="translate(240.34,160.90) scale(1.2000,1)" font-size="22" letter-spacing="0.468" fill="#1c1c1c">no</text>
<text transform="translate(269.02,160.90) scale(0.8680,1)" font-size="22" fill="#1c1c1c">C</text>
<path d="M246.7,170.20 L241.2,180.95 L246.7,191.70 M292.4,170.20 L298.7,180.95 L292.4,191.70" fill="none" stroke="#ff00ff" stroke-width="1.25"/>
<text transform="translate(249.27,186.40) scale(0.9862,1)" font-size="20.8" fill="#ff00ff">f</text>
<text transform="translate(257.92,192.90) scale(1.1000,1)" font-size="13.5" letter-spacing="1.125" font-weight="bold" fill="#ff00ff">esc</text>
<text transform="translate(300.95,188.00) scale(1.2594,1)" font-size="21.5" fill="#ff00ff">=</text>
<text transform="translate(329.10,186.40) scale(0.9512,1)" font-size="21.5" fill="#ff00ff">1</text>
<path d="M246.7,202.50 L241.2,213.25 L246.7,224.00 M292.4,202.50 L298.7,213.25 L292.4,224.00" fill="none" stroke="#ff0000" stroke-width="1.25"/>
<text transform="translate(249.27,218.70) scale(0.9862,1)" font-size="20.8" fill="#ff0000">f</text>
<text transform="translate(257.92,225.20) scale(1.1000,1)" font-size="13.5" letter-spacing="1.125" font-weight="bold" fill="#ff0000">esc</text>
<text transform="translate(300.95,220.30) scale(1.2594,1)" font-size="21.5" fill="#ff0000">=</text>
<text transform="translate(317.82,218.70) scale(1.2000,1)" font-size="21.5" letter-spacing="-0.466" fill="#ff0000">0.1</text>
<path d="M246.7,234.70 L241.2,245.45 L246.7,256.20 M292.4,234.70 L298.7,245.45 L292.4,256.20" fill="none" stroke="#00ff00" stroke-width="1.25"/>
<text transform="translate(249.27,250.90) scale(0.9862,1)" font-size="20.8" fill="#00ff00">f</text>
<text transform="translate(257.92,257.40) scale(1.1000,1)" font-size="13.5" letter-spacing="1.125" font-weight="bold" fill="#00ff00">esc</text>
<text transform="translate(300.95,252.50) scale(1.2594,1)" font-size="21.5" fill="#00ff00">=</text>
<text transform="translate(317.82,250.90) scale(1.2000,1)" font-size="21.5" letter-spacing="-0.088" fill="#00ff00">0.01</text>
<path d="M246.7,267.00 L241.2,277.75 L246.7,288.50 M292.4,267.00 L298.7,277.75 L292.4,288.50" fill="none" stroke="#0000ff" stroke-width="1.25"/>
<text transform="translate(249.27,283.20) scale(0.9862,1)" font-size="20.8" fill="#0000ff">f</text>
<text transform="translate(257.92,289.70) scale(1.1000,1)" font-size="13.5" letter-spacing="1.125" font-weight="bold" fill="#0000ff">esc</text>
<text transform="translate(300.95,284.80) scale(1.2594,1)" font-size="21.5" fill="#0000ff">=</text>
<text transform="translate(318.53,283.20) scale(1.2000,1)" font-size="21.5" letter-spacing="-0.208" fill="#0000ff">10</text>
<text transform="translate(345.70,276.95) scale(1.1851,1)" font-size="13.6" font-weight="bold" fill="#0000ff">−</text>
<text transform="translate(354.95,276.95) scale(0.9968,1)" font-size="13.6" font-weight="bold" fill="#0000ff">3</text>
<path d="M246.7,299.30 L241.2,310.05 L246.7,320.80 M292.4,299.30 L298.7,310.05 L292.4,320.80" fill="none" stroke="#00ffff" stroke-width="1.25"/>
<text transform="translate(249.27,315.50) scale(0.9862,1)" font-size="20.8" fill="#00ffff">f</text>
<text transform="translate(257.92,322.00) scale(1.1000,1)" font-size="13.5" letter-spacing="1.125" font-weight="bold" fill="#00ffff">esc</text>
<text transform="translate(300.95,317.10) scale(1.2594,1)" font-size="21.5" fill="#00ffff">=</text>
<text transform="translate(318.53,315.50) scale(1.2000,1)" font-size="21.5" letter-spacing="-0.208" fill="#00ffff">10</text>
<text transform="translate(345.70,309.25) scale(1.1851,1)" font-size="13.6" font-weight="bold" fill="#00ffff">−</text>
<text transform="translate(354.79,309.25) scale(1.0222,1)" font-size="13.6" font-weight="bold" fill="#00ffff">5</text>
</svg>
</body></html>
